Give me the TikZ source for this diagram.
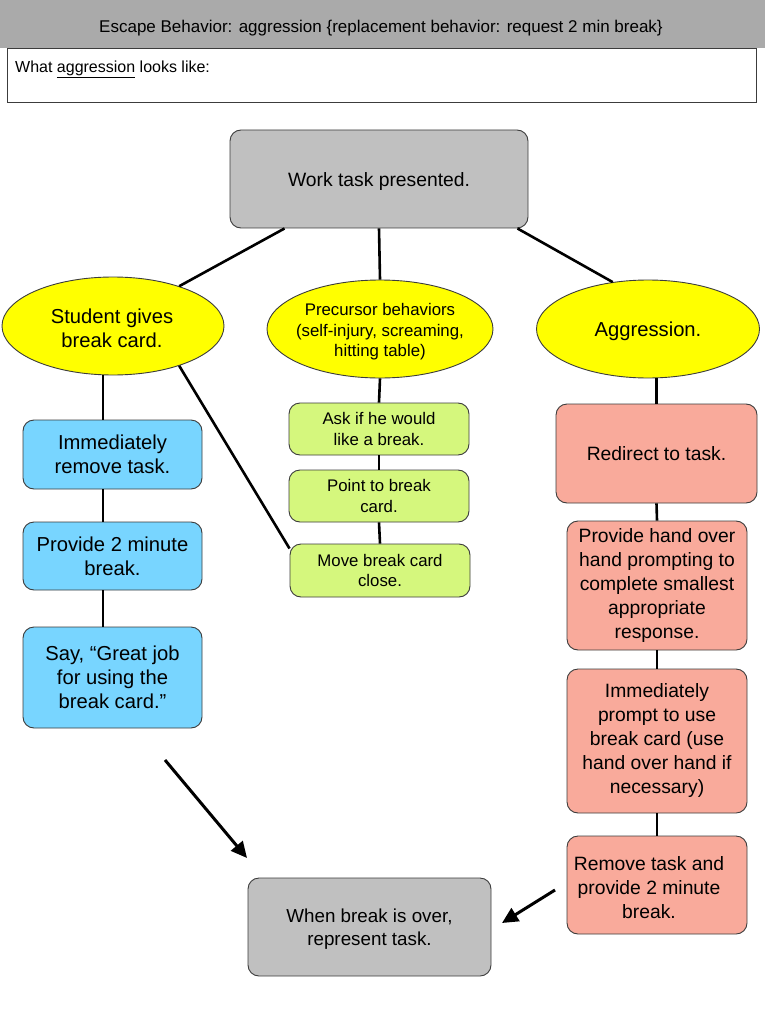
\documentclass[tikz,border=0pt]{standalone}
\usepackage{fontspec}
\setmainfont{Liberation Sans}
\usetikzlibrary{shapes.geometric,arrows.meta}
\definecolor{hdr}{RGB}{170,170,170}
\definecolor{boxgray}{RGB}{192,192,192}
\definecolor{ylw}{RGB}{255,255,0}
\definecolor{sky}{RGB}{120,213,255}
\definecolor{lime}{RGB}{213,247,125}
\definecolor{salmon}{RGB}{249,170,155}
\definecolor{edgec}{RGB}{60,60,60}
\begin{document}
\begin{tikzpicture}[x=1pt,y=-1pt,
  base/.style={draw=edgec,line width=0.9pt,align=center,inner sep=0pt,text=black},
  rbox/.style={base,rounded corners=11pt},
  oval/.style={base,ellipse,fill=ylw,inner xsep=-12pt},
  conn/.style={line width=2.6pt,black},
  arr/.style={line width=3pt,black,-{Triangle[length=16pt,width=15pt]}},
  fbig/.style={font=\fontsize{20.2}{24}\selectfont},
  fmid/.style={font=\fontsize{19.3}{24}\selectfont},
  fsmall/.style={font=\fontsize{16.8}{20.5}\selectfont},
]
\useasboundingbox (0,0) rectangle (765,1024);
\fill[white] (0,0) rectangle (765,1024);
\fill[hdr] (0,0) rectangle (765,48);
\node[font=\fontsize{17}{19}\selectfont,inner sep=0pt] (title) at (381,28) {Escape Behavior: aggression \{replacement behavior: request 2 min break\}};
\node[draw=edgec,line width=0.9pt,fill=white,minimum width=749pt,minimum height=54pt,inner sep=0pt,anchor=north west] (look) at (7,48) {};
\node[anchor=west,inner sep=0pt,font=\fontsize{16}{18}\selectfont] (looktxt) at (15,69) {What \underline{aggression} looks like:};

% top
\node[rbox,fill=boxgray,minimum width=298pt,minimum height=98pt] (work) at (379,179) {};
\node[fmid,inner sep=0pt] (worktxt) at (379,182) {Work task presented.};

% ellipses
\node[oval,minimum width=222pt,minimum height=98pt] (e1) at (113,326) {};
\node[fbig,align=center,inner sep=0pt] (e1txt) at (112,328) {Student gives\\break card.};
\node[oval,minimum width=226pt,minimum height=98pt] (e2) at (380,329) {};
\node[fsmall,align=center,inner sep=0pt] (e2txt) at (380,332) {Precursor behaviors\\(self-injury, screaming,\\hitting table)};
\node[oval,minimum width=223pt,minimum height=98pt] (e3) at (648,329) {};
\node[fbig,inner sep=0pt] (e3txt) at (648,331) {Aggression.};

% blue column
\node[rbox,fill=sky,minimum width=179pt,minimum height=69pt,fbig,text depth=0pt] (b1) at (112.5,454.5) {Immediately\\remove task.};
\node[rbox,fill=sky,minimum width=179pt,minimum height=68pt,fbig] (b2) at (112.5,556) {Provide 2 minute\\break.};
\node[rbox,fill=sky,minimum width=179pt,minimum height=101pt,fbig] (b3) at (112.5,677.5) {Say, “Great job\\for using the\\break card.”};

% green column
\node[rbox,fill=lime,minimum width=180pt,minimum height=52pt,fsmall] (g1) at (379,429) {Ask if he would\\like a break.};
\node[rbox,fill=lime,minimum width=180pt,minimum height=52pt,fsmall] (g2) at (379,496) {Point to break\\card.};
\node[rbox,fill=lime,minimum width=180pt,minimum height=53pt,fsmall] (g3) at (380,570.5) {Move break card\\close.};

% salmon column
\node[rbox,fill=salmon,minimum width=201pt,minimum height=99pt,fmid] (r1) at (656.5,453.5) {Redirect to task.};
\node[rbox,fill=salmon,minimum width=180pt,minimum height=129pt,fmid] (r2) at (657,585.5) {Provide hand over\\hand prompting to\\complete smallest\\appropriate\\response.};
\node[rbox,fill=salmon,minimum width=180pt,minimum height=144pt,fmid] (r3) at (657,741) {Immediately\\prompt to use\\break card (use\\hand over hand if\\necessary)};
\node[rbox,fill=salmon,minimum width=180pt,minimum height=98pt] (r4) at (657,885) {};
\node[fmid,align=center,inner sep=0pt] (r4txt) at (649,888) {Remove task and\\provide 2 minute\\break.};

% bottom
\node[rbox,fill=boxgray,minimum width=243pt,minimum height=98pt] (over) at (369.5,927) {};
\node[font=\fontsize{18.8}{23}\selectfont,align=center,inner sep=0pt] (overtxt) at (369.5,929) {When break is over,\\represent task.};

% connectors
\draw[conn] ([xshift=55pt]work.south west) -- (e1.31.5);
\draw[conn] (work.south) -- (e2.north);
\draw[conn] ([xshift=-11pt]work.south east) -- (e3.127.5);

\draw[conn] ([xshift=-10pt]e1.south) -- ([xshift=-9.5pt]b1.north);
\draw[conn] ([xshift=-9.5pt]b1.south) -- ([xshift=-9.5pt]b2.north);
\draw[conn] ([xshift=-9.5pt]b2.south) -- ([xshift=-9.5pt]b3.north);
\draw[conn] (e1.-31.5) -- ([yshift=-5pt]g3.north west);

\draw[conn] (e2.south) -- (g1.north);
\draw[conn] (g1.south) -- (g2.north);
\draw[conn] (g2.south) -- (g3.north);

\draw[conn] (r1.north |- e3.south) -- (r1.north);
\draw[conn] (r1.south) -- (r2.north);
\draw[conn] (r2.south) -- (r3.north);
\draw[conn] (r3.south) -- (r4.north);

\coordinate (a1s) at (165,760);
\coordinate (a1e) at (247,858);
\coordinate (a2s) at (555,890);
\coordinate (a2e) at (502,923);
\draw[arr] (a1s) -- (a1e);
\draw[arr] (a2s) -- (a2e);
\end{tikzpicture}
\end{document}
